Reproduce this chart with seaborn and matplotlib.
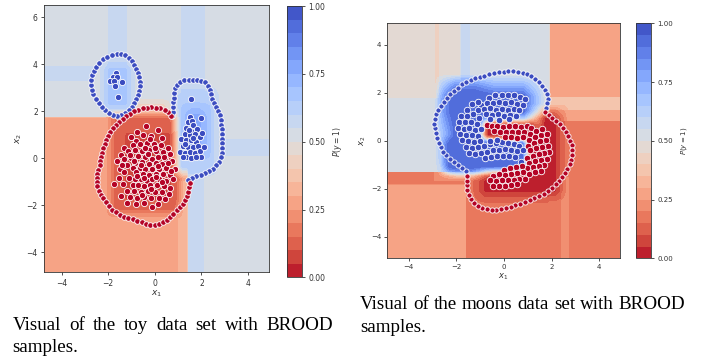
import numpy as np
import matplotlib
matplotlib.use("Agg")
import matplotlib.pyplot as plt
import seaborn as sns

# ------------------------------------------------------------------ data
# --- toy data set (left panel)
toy_blue_cluster1_x = [-1.67, -1.79, -1.60, -1.93, -1.74, -1.42, -1.71, -1.56]
toy_blue_cluster1_y = [3.62, 3.44, 3.45, 3.27, 3.27, 3.25, 3.07, 2.62]

toy_blue_ring1_x = [-1.64, -1.45, -1.27, -1.10, -0.97, -0.88, -0.80, -0.74, -0.69, -0.65,
                    -0.64, -0.67, -0.72, -0.79, -0.87, -0.98, -1.12, -1.28, -1.45, -1.63,
                    -1.81, -1.98, -2.14, -2.28, -2.41, -2.53, -2.63, -2.70, -2.74, -2.74,
                    -2.70, -2.62, -2.52, -2.38, -2.22, -2.04, -1.85]
toy_blue_ring1_y = [4.45, 4.43, 4.37, 4.27, 4.13, 3.97, 3.80, 3.62, 3.44, 3.25,
                    3.06, 2.87, 2.68, 2.50, 2.33, 2.17, 2.03, 1.93, 1.85, 1.81,
                    1.83, 1.91, 2.03, 2.18, 2.35, 2.53, 2.72, 2.92, 3.12, 3.32,
                    3.52, 3.71, 3.89, 4.05, 4.20, 4.32, 4.41]

toy_blue_ring2_x = [0.76, 0.77, 0.78, 0.79, 0.81, 0.84, 0.88, 0.97, 1.10, 1.27,
                    1.45, 1.63, 1.81, 1.98, 2.15, 2.29, 2.37, 2.41, 2.44, 2.52,
                    2.63, 2.73, 2.79, 2.83, 2.86, 2.88, 2.89, 2.90, 2.90, 2.89,
                    2.87, 2.83, 2.75, 2.64, 2.50, 2.34, 2.16, 1.97, 1.78, 1.60, 1.43]
toy_blue_ring2_y = [1.78, 1.98, 2.18, 2.38, 2.58, 2.78, 2.97, 3.13, 3.25, 3.31,
                    3.33, 3.33, 3.32, 3.30, 3.22, 3.09, 2.92, 2.73, 2.53, 2.35,
                    2.19, 2.02, 1.83, 1.63, 1.43, 1.23, 1.03, 0.83, 0.63, 0.43,
                    0.23, 0.04, -0.14, -0.30, -0.44, -0.56, -0.64, -0.70, -0.76, -0.83, -0.93]

toy_blue_cluster2_x = [1.57, 1.50, 1.43, 1.61, 2.00, 1.64, 1.36, 1.57, 1.81, 1.29,
                       1.50, 1.73, 1.96, 1.14, 1.36, 1.57, 1.79, 2.04, 1.21, 1.43,
                       1.64, 1.87, 1.07, 1.29, 1.50, 1.71, 1.93, 2.10, 1.36, 1.57,
                       2.00, 1.19, 1.79, 1.45, 1.66, 1.30]
toy_blue_cluster2_y = [2.51, 1.76, 1.54, 1.59, 1.69, 1.40, 1.30, 1.16, 1.23, 1.04,
                       0.97, 1.01, 0.90, 0.83, 0.76, 0.76, 0.69, 1.07, 0.54, 0.47,
                       0.47, 0.50, 0.26, 0.21, 0.26, 0.21, 0.30, 0.47, 0.04, 0.01,
                       0.07, 0.04, 0.04, 1.20, 0.85, 0.60]

toy_red_ring_x = [0.71, 0.58, 0.42, 0.24, 0.05, -0.14, -0.33, -0.52, -0.70, -0.88,
                  -1.05, -1.22, -1.38, -1.54, -1.68, -1.80, -1.90, -1.99, -2.07, -2.14,
                  -2.20, -2.25, -2.29, -2.33, -2.37, -2.42, -2.46, -2.49, -2.49, -2.46,
                  -2.40, -2.31, -2.20, -2.09, -1.98, -1.84, -1.68, -1.50, -1.32, -1.13,
                  -0.94, -0.75, -0.56, -0.38, -0.19, 0.00, 0.18, 0.35, 0.51, 0.66,
                  0.80, 0.94, 1.07, 1.19, 1.30, 1.38, 1.43, 1.47, 1.50]
toy_red_ring_y = [1.78, 1.95, 2.06, 2.12, 2.15, 2.16, 2.15, 2.12, 2.07, 1.99,
                  1.89, 1.78, 1.67, 1.55, 1.42, 1.27, 1.11, 0.94, 0.77, 0.60,
                  0.42, 0.24, 0.06, -0.12, -0.30, -0.48, -0.66, -0.84, -1.02, -1.20,
                  -1.38, -1.55, -1.71, -1.87, -2.03, -2.18, -2.30, -2.41, -2.49, -2.55,
                  -2.60, -2.66, -2.73, -2.80, -2.84, -2.85, -2.80, -2.72, -2.62, -2.50,
                  -2.36, -2.22, -2.08, -1.93, -1.77, -1.60, -1.42, -1.24, -1.07]

toy_red_cluster_x = [-0.36, 0.14, -0.75, -1.00, -0.50, -0.15, 0.30, -0.80, -1.30, -0.95,
                     -0.65, -0.35, -0.05, 0.25, 0.55, -0.20, -1.45, -1.15, -0.85, -0.55,
                     -0.25, 0.05, 0.35, 0.65, -0.70, 0.15, -1.60, -1.30, -1.00, -0.40,
                     -0.10, 0.45, 0.75, -0.85, -0.55, -0.25, 0.05, 0.30, -1.20, -1.50,
                     -0.95, -0.65, -0.40, -0.10, 0.20, 0.50, 0.85, -1.30, -0.80, -0.50,
                     -0.25, 0.05, 0.35, 0.65, -1.55, -1.10, -0.85, -0.60, -0.35, -0.10,
                     0.20, 0.50, 0.80, -1.35, -0.95, -0.70, -0.45, -0.20, 0.10, 0.40,
                     0.65, -1.75, -1.20, -0.90, -0.60, -0.30, 0.00, 0.30, 0.60, -1.45,
                     -1.05, -0.75, -0.45, -0.15, 0.20, 0.45, -1.20, -0.80, -0.45, -0.10,
                     0.15, -0.30, 0.00, -0.60, 0.15, -0.45, 0.30, -0.90, 0.55, -0.15,
                     -1.05, -0.40, 0.40, -0.75, 0.05, -1.40, 0.70, -0.55]
toy_red_cluster_y = [1.38, 1.18, 1.10, 0.90, 1.00, 0.95, 0.85, 0.75, 0.45, 0.55,
                     0.60, 0.65, 0.60, 0.55, 0.45, 0.80, 0.15, 0.30, 0.35, 0.30,
                     0.35, 0.30, 0.25, 0.20, 0.10, 0.05, -0.10, -0.05, 0.00, 0.05,
                     -0.05, -0.05, -0.10, -0.20, -0.15, -0.25, -0.20, -0.25, -0.30, -0.45,
                     -0.40, -0.40, -0.45, -0.45, -0.45, -0.40, -0.45, -0.60, -0.60, -0.65,
                     -0.70, -0.65, -0.65, -0.70, -0.85, -0.85, -0.90, -0.90, -0.95, -0.90,
                     -0.90, -0.95, -0.90, -1.10, -1.15, -1.15, -1.20, -1.15, -1.15, -1.20,
                     -1.25, -1.10, -1.40, -1.40, -1.45, -1.40, -1.45, -1.45, -1.50, -1.60,
                     -1.65, -1.70, -1.65, -1.70, -1.70, -1.75, -1.90, -1.95, -1.90, -2.06,
                     -1.95, 0.20, 0.45, -0.30, -0.35, -0.85, -1.00, -0.10, -0.20, -1.30,
                     0.15, 0.45, 0.05, -0.75, -0.80, -0.30, -0.55, -1.55]

# probability regions (x0, x1, y0, y1, P(y=1)) : sharp tree-like blocks
toy_base_p = 0.52
toy_blocks = [(-5.0, 1.42, -5.0, 1.75, 0.27),
              (-5.0, -2.0, 0.65, 1.75, 0.30),
              (1.0, 1.42, -5.0, -1.0, 0.31),
              (1.42, 2.1, -5.0, 1.0, 0.57),
              (-2.0, -1.2, 1.75, 7.0, 0.57),
              (1.15, 2.14, 1.75, 7.0, 0.57),
              (-5.0, -2.6, 3.3, 3.9, 0.57),
              (2.9, 5.0, 0.1, 0.8, 0.57)]
# soft regions (x0, x1, y0, y1, P(y=1), edge width)
toy_soft = [(-0.9, 0.6, 1.8, 2.4, 0.42, 0.4),
            (-1.95, 1.05, -2.4, 1.95, 0.15, 0.4),
            (-1.5, 0.9, -2.0, 1.3, 0.09, 0.6),
            (-2.2, -1.0, 2.1, 4.0, 0.66, 0.5),
            (0.95, 2.6, -0.6, 2.9, 0.64, 0.5),
            (1.3, 2.2, 0.2, 2.1, 0.76, 0.6)]

# --- moons data set (right panel)
moon_blue_ring_x = [-1.58, -1.75, -1.93, -2.10, -2.27, -2.42, -2.55, -2.66, -2.74, -2.80,
                    -2.85, -2.90, -2.92, -2.90, -2.84, -2.76, -2.65, -2.52, -2.39, -2.25,
                    -2.10, -1.94, -1.77, -1.59, -1.40, -1.21, -1.02, -0.82, -0.62, -0.42,
                    -0.22, -0.02, 0.18, 0.38, 0.58, 0.78, 0.97, 1.15, 1.32, 1.47,
                    1.60, 1.71, 1.79, 1.83, 1.82, 1.76]
moon_blue_ring_y = [-1.25, -1.12, -1.00, -0.88, -0.76, -0.61, -0.45, -0.27, -0.08, 0.12,
                    0.32, 0.52, 0.72, 0.92, 1.11, 1.30, 1.47, 1.63, 1.79, 1.94,
                    2.09, 2.22, 2.35, 2.45, 2.53, 2.60, 2.66, 2.72, 2.77, 2.82,
                    2.86, 2.88, 2.89, 2.89, 2.87, 2.83, 2.77, 2.69, 2.58, 2.45,
                    2.30, 2.13, 1.95, 1.76, 1.56, 1.38]

moon_red_ring_x = [1.72, 1.87, 2.03, 2.19, 2.34, 2.48, 2.60, 2.70, 2.78, 2.84,
                   2.87, 2.85, 2.81, 2.75, 2.66, 2.56, 2.44, 2.31, 2.17, 2.01,
                   1.84, 1.66, 1.47, 1.28, 1.08, 0.88, 0.68, 0.48, 0.28, 0.08,
                   -0.12, -0.32, -0.52, -0.72, -0.91, -1.09, -1.25, -1.39, -1.49, -1.55,
                   -1.57, -1.56, -1.54]
moon_red_ring_y = [1.20, 1.07, 0.95, 0.83, 0.70, 0.55, 0.38, 0.20, 0.01, -0.19,
                   -0.39, -0.59, -0.79, -0.98, -1.16, -1.34, -1.50, -1.66, -1.81, -1.95,
                   -2.08, -2.20, -2.30, -2.39, -2.47, -2.55, -2.62, -2.69, -2.75, -2.80,
                   -2.84, -2.87, -2.88, -2.86, -2.80, -2.71, -2.59, -2.44, -2.26, -2.06,
                   -1.86, -1.66, -1.46]

moon_blue_x = [-0.62, -0.36, -0.10, 0.15, 0.40, 0.66, 0.88,
               -0.95, -0.70, -0.45, -0.20, 0.05, 0.30, 0.55, 0.80,
               -1.10, -0.85, -0.60, -0.35, -0.10, 0.15, 0.40, 0.65,
               -0.75, -0.50, -0.25, 0.00, 0.25, 0.50,
               -0.60, -0.20, 0.20,
               -1.35, -1.10, -1.55, -1.30, -1.80, -1.55, -1.05, -1.90, -1.65, -1.40,
               -1.15, -1.92, -1.70, -1.45, -1.20, -0.95, -1.85, -1.60, -1.35, -1.10,
               -1.75, -1.50, -1.25, -1.00, -1.60, -1.35, -1.10, -1.45, -1.20,
               -0.85, -0.60, -0.35, -0.10, 0.15, 0.40, 0.65,
               -0.95, -0.70, -0.45, -0.20, 0.05, 0.30, 0.55, 0.78,
               -0.80, -0.55, -0.30, -0.05, 0.20, 0.45,
               -0.60, -0.30, 0.70]
moon_blue_y = [1.80, 1.90, 1.92, 1.90, 1.92, 1.84, 1.76,
               1.50, 1.56, 1.58, 1.60, 1.56, 1.60, 1.55, 1.50,
               1.28, 1.32, 1.35, 1.30, 1.34, 1.30, 1.33, 1.28,
               1.10, 1.08, 1.10, 1.05, 1.08, 1.02,
               0.90, 0.88, 0.90,
               1.55, 1.60, 1.30, 1.10, 1.05, 1.02, 0.95, 0.80, 0.78, 0.80,
               0.72, 0.55, 0.50, 0.52, 0.45, 0.50, 0.30, 0.25, 0.22, 0.20,
               0.02, -0.02, -0.05, 0.00, -0.25, -0.30, -0.28, -0.52, -0.55,
               -0.20, -0.15, -0.10, -0.05, -0.10, -0.12, -0.20,
               -0.50, -0.45, -0.40, -0.38, -0.35, -0.40, -0.42, -0.40,
               -0.72, -0.68, -0.65, -0.62, -0.65, -0.66,
               0.00, 0.02, -0.88]

moon_red_x = [-0.72, -0.50, -0.28, -0.05, 0.20, 0.45, 0.70, 0.95,
              -0.40, -0.15, 0.10, 0.35, 0.60, 0.85,
              0.05, 0.30, 0.55, 0.80,
              1.15, 1.35, 1.10, 1.55, 1.30, 1.05, 1.75, 1.50, 1.25, 1.00,
              1.85, 1.60, 1.35, 1.10, 1.90, 1.70, 1.45, 1.20, 0.95, 1.80,
              1.55, 1.30, 1.05, 1.70, 1.45, 1.20, 0.95, 1.55, 1.30, 1.60, 1.80,
              0.75, 0.50, 0.25, 0.00,
              1.05, 0.80, 0.55, 0.30, 0.05, -0.20, -0.45,
              0.90, 0.65, 0.40, 0.15, -0.10, -0.35, -0.60,
              0.55, 0.30, 0.05, -0.20, -0.45]
moon_red_y = [0.66, 0.62, 0.60, 0.58, 0.62, 0.60, 0.58, 0.60,
              0.40, 0.38, 0.35, 0.38, 0.36, 0.38,
              0.15, 0.15, 0.12, 0.15,
              0.55, 0.42, 0.30, 0.25, 0.15, 0.05, 0.05, -0.02, -0.10, -0.20,
              -0.20, -0.25, -0.32, -0.40, -0.45, -0.50, -0.55, -0.62, -0.70, -0.75,
              -0.80, -0.85, -0.92, -1.00, -1.05, -1.10, -1.12, -1.28, -1.30, 0.50, 0.30,
              -1.05, -1.10, -1.15, -1.20,
              -1.38, -1.32, -1.35, -1.38, -1.42, -1.40, -1.45,
              -1.58, -1.60, -1.62, -1.65, -1.65, -1.68, -1.65,
              -1.82, -1.85, -1.88, -1.90, -1.88]

moon_base_p = 0.52
moon_blocks = [(-5.0, -1.8, 1.75, 5.0, 0.48),
               (-2.9, -2.7, 1.75, 5.0, 0.43),
               (-1.8, -1.45, 2.5, 5.0, 0.57),
               (1.9, 5.0, 0.85, 5.0, 0.29),
               (1.9, 5.0, 1.3, 1.8, 0.36),
               (1.9, 5.0, -5.0, 0.85, 0.19),
               (2.4, 2.7, -5.0, -1.5, 0.24),
               (-5.0, -1.6, -5.0, -1.3, 0.27),
               (-5.0, -1.6, -1.85, -1.3, 0.20),
               (-1.6, 1.9, -5.0, -1.3, 0.17)]
moon_soft = [(-1.1, 2.45, -2.4, 1.25, 0.04, 0.6),
             (-2.45, 1.25, 0.8, 2.3, 0.95, 0.9),
             (-2.45, -0.85, -1.2, 2.3, 0.95, 0.9),
             (-2.45, 0.95, -1.25, 0.05, 0.95, 0.4),
             (-0.85, 1.3, 0.1, 0.8, 0.04, 0.3)]

cbar_ticks = [0.0, 0.25, 0.5, 0.75, 1.0]
left_caption = ["Visual of the toy data set with BROOD", "samples."]
right_caption = ["Visual of the moons data set with BROOD", "samples."]

# ------------------------------------------------------------------ style
sns.set_theme(style="ticks")
plt.rcParams["font.family"] = ["DejaVu Sans"]
plt.rcParams["axes.linewidth"] = 0.6
plt.rcParams["axes.edgecolor"] = "#333333"
plt.rcParams["xtick.color"] = "#333333"
plt.rcParams["ytick.color"] = "#333333"

BLUE = "#3b4cc0"
RED = "#b40426"
LEVELS = np.linspace(0, 1, 21)

fig = plt.figure(figsize=(7.02, 3.56), dpi=100)


def field(xlim, ylim, base, blocks, soft):
    gx = np.linspace(xlim[0], xlim[1], 400)
    gy = np.linspace(ylim[0], ylim[1], 400)
    X, Y = np.meshgrid(gx, gy)
    Z = np.full(X.shape, base)
    for x0, x1, y0, y1, p in blocks:
        Z[(X >= x0) & (X < x1) & (Y >= y0) & (Y < y1)] = p
    for x0, x1, y0, y1, p, w in soft:
        mx = np.clip(np.minimum(X - x0, x1 - X) / w + 0.5, 0, 1)
        my = np.clip(np.minimum(Y - y0, y1 - Y) / w + 0.5, 0, 1)
        m = mx * my
        Z = Z * (1 - m) + p * m
    return X, Y, Z


def panel(ax_rect, cax_rect, xlim, ylim, base, blocks, soft, series,
          xticks, yticks, fs):
    ax = fig.add_axes(ax_rect)
    cax = fig.add_axes(cax_rect)
    X, Y, Z = field(xlim, ylim, base, blocks, soft)
    cs = ax.contourf(X, Y, Z, levels=LEVELS, cmap="coolwarm_r", vmin=0, vmax=1)
    for xs, ys, col, s in series:
        sns.scatterplot(x=xs, y=ys, color=col, s=s, edgecolor="white",
                        linewidth=0.6, ax=ax, legend=False, zorder=3)
    ax.set_xlim(*xlim)
    ax.set_ylim(*ylim)
    ax.set_xticks(xticks)
    ax.set_yticks(yticks)
    ax.tick_params(labelsize=fs, length=2.5, width=0.6, pad=2)
    ax.set_xlabel("$x_1$", fontsize=fs + 1, labelpad=1, color="#333333")
    ax.set_ylabel("$x_2$", fontsize=fs + 1, labelpad=2, color="#333333")
    for sp in ax.spines.values():
        sp.set_visible(True)
    cb = fig.colorbar(cs, cax=cax, ticks=cbar_ticks)
    cb.ax.set_yticklabels([f"{t:.2f}" for t in cbar_ticks])
    cb.ax.tick_params(labelsize=fs, length=2.5, width=0.6, pad=2)
    cb.outline.set_linewidth(0.6)
    cb.set_label("$P(y=1)$", fontsize=fs, color="#333333", labelpad=4)
    return ax


panel([0.0627, 0.235, 0.3205, 0.750], [0.409, 0.221, 0.021, 0.762],
      (-4.75, 4.9), (-4.85, 6.5), toy_base_p, toy_blocks, toy_soft,
      [(toy_blue_ring1_x, toy_blue_ring1_y, BLUE, 16),
       (toy_blue_ring2_x, toy_blue_ring2_y, BLUE, 16),
       (toy_blue_cluster1_x, toy_blue_cluster1_y, BLUE, 20),
       (toy_blue_cluster2_x, toy_blue_cluster2_y, BLUE, 20),
       (toy_red_ring_x, toy_red_ring_y, RED, 16),
       (toy_red_cluster_x, toy_red_cluster_y, RED, 20)],
      [-4, -2, 0, 2, 4], [-4, -2, 0, 2, 4, 6], 5.5)

panel([0.5517, 0.276, 0.3315, 0.6585], [0.906, 0.2744, 0.0214, 0.66],
      (-4.9, 4.87), (-4.88, 4.9), moon_base_p, moon_blocks, moon_soft,
      [(moon_blue_ring_x, moon_blue_ring_y, BLUE, 14),
       (moon_red_ring_x, moon_red_ring_y, RED, 14),
       (moon_blue_x, moon_blue_y, BLUE, 22),
       (moon_red_x, moon_red_y, RED, 22)],
      [-4, -2, 0, 2, 4], [-4, -2, 0, 2, 4], 5.0)

# ------------------------------------------------------------------ captions
W, H = 702.0, 356.0
cap_kw = dict(family="Liberation Serif", fontsize=13.7, color="black", va="baseline")
renderer = fig.canvas.get_renderer()


def justified(text, x0, x1, ybase):
    words = text.split()
    objs = [fig.text(0, 1 - ybase / H, w, **cap_kw) for w in words]
    widths = [o.get_window_extent(renderer).width for o in objs]
    gap = ((x1 - x0) - sum(widths)) / max(len(words) - 1, 1)
    pos = x0
    for o, w in zip(objs, widths):
        o.set_x(pos / W)
        pos += w + gap


justified(left_caption[0], 12.7, 333.0, 330.0)
fig.text(12.7 / W, 1 - 351.5 / H, left_caption[1], **cap_kw)
justified(right_caption[0], 360.0, 685.0, 309.0)
fig.text(360.0 / W, 1 - 331.5 / H, right_caption[1], **cap_kw)

fig.savefig("out.png", dpi=100)
